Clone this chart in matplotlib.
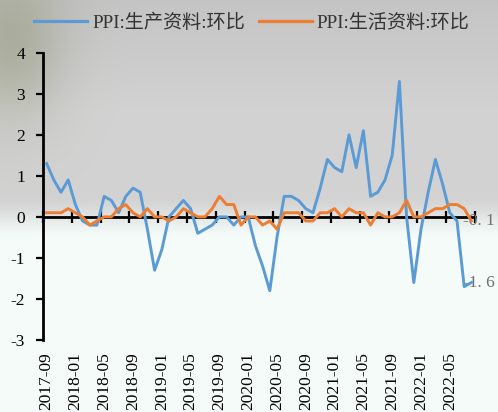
import numpy as np
import pandas as pd
import matplotlib
matplotlib.use("Agg")
import matplotlib.pyplot as plt

# ---------------- data ----------------
months = pd.date_range("2017-09", periods=60, freq="MS").strftime("%Y-%m").tolist()

ppi_production = [1.3, 0.9, 0.6, 0.9, 0.3, -0.1, -0.2, -0.2, 0.5, 0.4,
                  0.1, 0.5, 0.7, 0.6, -0.3, -1.3, -0.8, 0.0, 0.2, 0.4,
                  0.2, -0.4, -0.3, -0.2, 0.0, 0.0, -0.2, 0.0, 0.0, -0.7,
                  -1.2, -1.8, -0.5, 0.5, 0.5, 0.4, 0.2, 0.1, 0.7, 1.4,
                  1.2, 1.1, 2.0, 1.2, 2.1, 0.5, 0.6, 0.9, 1.5, 3.3,
                  0.0, -1.6, -0.3, 0.6, 1.4, 0.8, 0.1, -0.1, -1.7, -1.6]

ppi_living = [0.1, 0.1, 0.1, 0.2, 0.1, 0.0, -0.2, -0.1, 0.0, 0.0,
              0.2, 0.3, 0.1, 0.0, 0.2, 0.0, 0.0, -0.1, 0.0, 0.2,
              0.1, 0.0, 0.0, 0.2, 0.5, 0.3, 0.3, -0.2, 0.0, 0.0,
              -0.2, -0.1, -0.3, 0.1, 0.1, 0.1, -0.1, -0.1, 0.1, 0.1,
              0.2, 0.0, 0.2, 0.1, 0.1, -0.2, 0.1, 0.0, 0.0, 0.1,
              0.4, 0.0, 0.0, 0.1, 0.2, 0.2, 0.3, 0.3, 0.2, -0.1]

series_names = ["PPI:生产资料:环比", "PPI:生活资料:环比"]
xtick_labels = ["2017-09", "2018-01", "2018-05", "2018-09", "2019-01",
                "2019-05", "2019-09", "2020-01", "2020-05", "2020-09",
                "2021-01", "2021-05", "2021-09", "2022-01", "2022-05"]
ytick_values = [-3, -2, -1, 0, 1, 2, 3, 4]
ytick_labels = ["-3", "-2", "-1", "0", "1", "2", "3", "4"]
end_labels = ["-1. 6", "-0. 1"]

# ---------------- style ----------------
BLUE = "#5B9BD5"
ORANGE = "#ED7D31"
SERIF = "Liberation Serif"
plt.rcParams["font.family"] = [SERIF, "Noto Sans CJK SC", "DejaVu Sans"]

W, H = 498, 412
fig = plt.figure(figsize=(W / 100, H / 100), dpi=100)

# soft photographic-like background
yy, xx = np.mgrid[0:H, 0:W].astype(float)
g = 0.77 + 0.055 * np.clip(yy / 110, 0, 1)
t = np.clip((yy - 195) / 45, 0, 1)
t = t * t * (3 - 2 * t)
top = np.stack([g, g, g], axis=-1)
bottom = np.array([0.958, 0.988, 0.978])
bg = top * (1 - t)[..., None] + bottom * t[..., None]
d = np.exp(-(((xx - 10) / 55) ** 2 + ((yy - 40) / 80) ** 2))
tone = np.array([0.55, 0.57, 0.45])
bg = bg * (1 - 0.5 * d[..., None]) + tone * 0.5 * d[..., None]
bg_ax = fig.add_axes([0, 0, 1, 1])
bg_ax.imshow(np.clip(bg, 0, 1), aspect="auto", interpolation="bilinear")
bg_ax.axis("off")
bg_ax.set_zorder(-10)

ax = fig.add_axes([43 / W, (H - 340) / H, (475 - 43) / W, (340 - 52.7) / H])
ax.patch.set_alpha(0)

x = np.arange(len(months))
ax.plot(x, ppi_production, color=BLUE, lw=2.1, zorder=3,
        solid_joinstyle="round", label=series_names[0])
ax.plot(x, ppi_living, color=ORANGE, lw=2.1, zorder=4,
        solid_joinstyle="round", label=series_names[1])

ax.set_xlim(-0.5, len(months) - 0.5)
ax.set_ylim(-3, 4)

for s in ["top", "right", "bottom"]:
    ax.spines[s].set_visible(False)
ax.spines["left"].set_linewidth(2)
ax.spines["left"].set_color("black")

ax.set_yticks(ytick_values)
ax.set_yticklabels(ytick_labels, fontsize=12.5, family=SERIF)
ax.tick_params(axis="y", direction="out", length=5, width=1.6, pad=8, colors="black")

ax.set_xticks(x[::4])
ax.set_xticklabels(xtick_labels, rotation=90, fontsize=12.5, family=SERIF,
                   va="top", ha="center")
ax.tick_params(axis="x", length=0, pad=9)

# category axis crossing at zero with boundary tick marks
sec = ax.secondary_xaxis(0, transform=ax.transData)
sec.set_xticks(np.arange(-0.5, len(months), 4))
sec.tick_params(direction="inout", length=8, width=1.6, labelbottom=False,
                labeltop=False, colors="black")
for s in sec.spines.values():
    s.set_linewidth(2)
    s.set_color("black")

# end data labels
ax.annotate(end_labels[0], xy=(x[-1], ppi_production[-1]), xytext=(-6, 0),
            textcoords="offset points", ha="left", va="center",
            color="#707070", fontsize=12.5, family=SERIF, zorder=2.5,
            annotation_clip=False)
ax.annotate(end_labels[1], xy=(x[-1], ppi_living[-1]), xytext=(-6, 0),
            textcoords="offset points", ha="left", va="center",
            color="#707070", fontsize=12.5, family=SERIF, zorder=2.5,
            annotation_clip=False)

leg = fig.legend(loc="center", bbox_to_anchor=(252 / W, 1 - 22.5 / H), ncol=2,
                 frameon=False, handlelength=2.75, handletextpad=0.27,
                 columnspacing=0.72,
                 prop={"family": [SERIF, "Noto Sans CJK SC"], "size": 13.8})
for txt in leg.get_texts():
    txt.set_color("#333333")
for line in leg.get_lines():
    line.set_linewidth(2.3)

fig.savefig("out.png", dpi=100)
